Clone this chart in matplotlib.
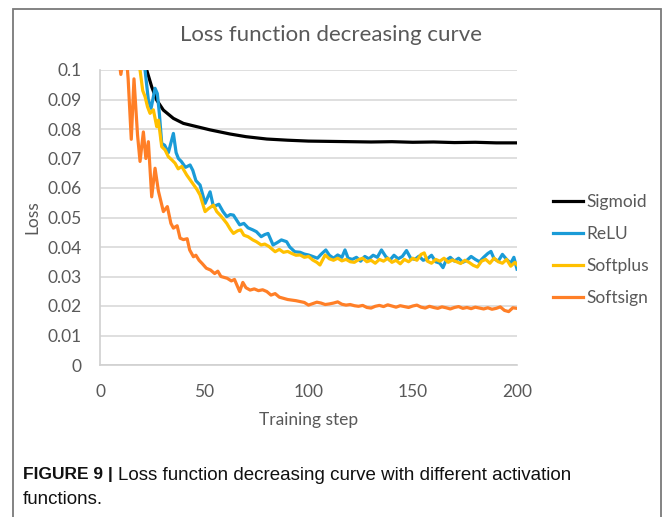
import matplotlib
matplotlib.use("Agg")
import matplotlib.pyplot as plt
from matplotlib.patches import Rectangle
from matplotlib import font_manager

# ---- data ----
sigmoid_x = [18, 22.4, 24.8, 27.2, 30.4, 35.2, 40, 46.4, 52.8, 62.4, 70, 80, 90, 100,
             110, 120, 130, 140, 150, 160, 170, 180, 190, 200]
sigmoid_y = [0.115, 0.1, 0.0943, 0.0898, 0.0864, 0.0836, 0.0819, 0.0808, 0.0797, 0.0783,
             0.0774, 0.0766, 0.0762, 0.0759, 0.0758, 0.0757, 0.0756, 0.0757, 0.0755, 0.0756,
             0.0754, 0.0755, 0.0753, 0.0753]

relu_x = [18, 21.6, 23.2, 24.5, 26.4, 27.5, 28.5, 29.6, 31, 32.8, 35.2, 36.5, 37.6, 39, 41,
          43.2, 44.5, 46, 48, 50.4, 52.8, 54.4, 57, 59, 60.8, 62.5, 64, 67, 69, 71, 73.3, 75,
          77.3, 79, 80.6, 83, 85, 87, 89.5, 91, 93.4, 96, 98, 100, 102, 104.3, 106, 108.3,
          110, 112, 114, 116, 117.5, 119, 121, 123, 125, 127, 129, 131, 133, 135, 137, 139,
          141, 143, 145, 147, 149, 151, 153, 155, 157, 159, 161, 163, 164.5, 166, 168, 170,
          172, 174, 176, 178, 180, 182, 184, 186, 187.5, 189, 191, 193, 195, 197, 198.5, 200]
relu_y = [0.115, 0.1, 0.0898, 0.087, 0.0938, 0.092, 0.085, 0.0751, 0.0745, 0.072, 0.0785,
          0.072, 0.070, 0.069, 0.067, 0.0678, 0.066, 0.0625, 0.061, 0.0548, 0.0587, 0.0537,
          0.0545, 0.052, 0.0503, 0.051, 0.0508, 0.0475, 0.048, 0.0465, 0.0458, 0.0452, 0.0435,
          0.0442, 0.0446, 0.0407, 0.0415, 0.0424, 0.0418, 0.040, 0.0384, 0.0382, 0.0376,
          0.0373, 0.0368, 0.0362, 0.0375, 0.039, 0.0372, 0.0362, 0.0373, 0.0365, 0.039,
          0.0362, 0.0358, 0.0365, 0.0352, 0.0368, 0.036, 0.0372, 0.0365, 0.039, 0.0368,
          0.0355, 0.0372, 0.036, 0.0368, 0.0388, 0.0362, 0.0358, 0.0369, 0.0355, 0.036,
          0.0372, 0.035, 0.0345, 0.033, 0.0355, 0.0365, 0.0352, 0.0362, 0.0348, 0.0355,
          0.0368, 0.0358, 0.035, 0.0365, 0.0378, 0.0385, 0.036, 0.0352, 0.0375, 0.0358,
          0.0345, 0.0365, 0.0325]

softplus_x = [17, 19.2, 20.5, 21.6, 22.8, 24, 25.6, 27.2, 28, 28.8, 29.6, 31.2, 32.8, 34.5,
              36, 37.5, 39.2, 41.6, 43, 45, 46.5, 48, 50.4, 52, 54.4, 56, 58, 60.8, 62.5, 64,
              66, 67.5, 69, 71, 73.3, 75, 77.3, 79, 81, 84, 86, 88, 90, 92, 94, 96, 98, 100,
              102, 104, 105.5, 108, 110, 112, 114, 116, 118, 120, 122, 124, 126, 128, 130,
              132, 134, 136, 138, 140, 142, 144, 146, 148, 150, 152, 154, 155.5, 157, 159,
              161, 163, 165, 167, 169, 171, 173, 175, 177, 179, 181, 183, 185, 187, 189, 191,
              193, 195, 197, 199, 200]
softplus_y = [0.115, 0.1, 0.093, 0.091, 0.0875, 0.0853, 0.0865, 0.0808, 0.083, 0.0785, 0.074,
              0.0729, 0.0706, 0.0695, 0.0684, 0.0665, 0.0673, 0.0644, 0.063, 0.061, 0.0595,
              0.0576, 0.052, 0.053, 0.0542, 0.052, 0.0505, 0.048, 0.046, 0.0446, 0.0455,
              0.0458, 0.044, 0.0435, 0.0424, 0.0418, 0.0407, 0.041, 0.0402, 0.0384, 0.0392,
              0.0382, 0.0385, 0.0378, 0.0372, 0.0373, 0.0365, 0.0368, 0.0356, 0.0348, 0.0339,
              0.0373, 0.036, 0.0355, 0.0362, 0.0353, 0.0358, 0.035, 0.0348, 0.0357, 0.0362,
              0.035, 0.0355, 0.0345, 0.0358, 0.0352, 0.0362, 0.0348, 0.0355, 0.0343, 0.0358,
              0.035, 0.0362, 0.0355, 0.0375, 0.038, 0.0352, 0.0345, 0.0358, 0.0352, 0.0362,
              0.0348, 0.0356, 0.035, 0.0344, 0.0355, 0.0348, 0.0338, 0.0332, 0.0352, 0.0358,
              0.0345, 0.0362, 0.035, 0.0345, 0.0358, 0.0335, 0.0348, 0.034]

softsign_x = [9, 10, 11, 12.5, 13.5, 15, 16.3, 18, 19.2, 20.8, 22, 23.2, 24.8, 26.4, 28,
              30.4, 32.3, 34, 35.2, 37, 38.4, 40, 41.8, 43, 44.8, 46, 47.5, 49, 51, 53, 55,
              56.5, 58, 61, 63, 64.5, 67, 68.5, 70, 72, 74, 76, 78, 80, 82, 84, 86, 88, 90,
              92, 94, 96, 98, 100, 102, 104, 106, 108, 110, 112, 114, 116, 118, 120, 122, 124,
              126, 128, 130, 132, 134, 136, 138, 140, 142, 144, 146, 148, 150, 152, 154, 156,
              158, 160, 162, 164, 166, 168, 170, 172, 174, 176, 178, 180, 182, 184, 186, 188,
              190, 192, 194, 196, 198, 200]
softsign_y = [0.104, 0.0985, 0.103, 0.106, 0.097, 0.0765, 0.097, 0.078, 0.069, 0.079, 0.070,
              0.0757, 0.057, 0.0667, 0.059, 0.052, 0.0537, 0.048, 0.0464, 0.0472, 0.043,
              0.0425, 0.0428, 0.039, 0.0367, 0.0372, 0.0355, 0.0344, 0.0328, 0.0322, 0.031,
              0.0318, 0.030, 0.0294, 0.0285, 0.029, 0.0249, 0.028, 0.0262, 0.0254, 0.0258,
              0.0252, 0.0255, 0.0249, 0.0237, 0.0242, 0.023, 0.0226, 0.0222, 0.022, 0.0218,
              0.0215, 0.0212, 0.0203, 0.0208, 0.0213, 0.021, 0.0205, 0.0207, 0.021, 0.0214,
              0.0206, 0.0203, 0.0205, 0.0201, 0.0199, 0.0202, 0.0195, 0.0193, 0.0199, 0.0202,
              0.0198, 0.0204, 0.02, 0.0196, 0.0201, 0.0198, 0.0195, 0.02, 0.0203, 0.0196,
              0.0193, 0.0199, 0.0195, 0.0192, 0.0197, 0.0194, 0.019, 0.0195, 0.0198, 0.0192,
              0.0195, 0.0191, 0.0196, 0.0193, 0.019, 0.0194, 0.0189, 0.0192, 0.0197, 0.0185,
              0.0181, 0.0194, 0.0192]

series = [
    ("Sigmoid", sigmoid_x, sigmoid_y, "#000000"),
    ("ReLU", relu_x, relu_y, "#1A9BD7"),
    ("Softplus", softplus_x, softplus_y, "#FFC000"),
    ("Softsign", softsign_x, softsign_y, "#FF7F27"),
]
y_ticks = [0, 0.01, 0.02, 0.03, 0.04, 0.05, 0.06, 0.07, 0.08, 0.09, 0.1]
y_tick_labels = ["0", "0.01", "0.02", "0.03", "0.04", "0.05", "0.06", "0.07", "0.08", "0.09", "0.1"]
x_ticks = [0, 50, 100, 150, 200]


def pick_font(names):
    have = {f.name for f in font_manager.fontManager.ttflist}
    for n in names:
        if n in have:
            return n
    return "DejaVu Sans"


chart_font = pick_font(["Lato", "Open Sans", "DejaVu Sans"])
cap_font = pick_font(["Liberation Sans Narrow", "Liberation Sans", "DejaVu Sans"])
grey = "#595959"

W, H = 663, 517
fig = plt.figure(figsize=(W / 100, H / 100), dpi=100)

# outer frame
fig.patches.append(Rectangle((13 / W, -0.05), 648 / W, 1.05 - 9 / H,
                             transform=fig.transFigure, fill=False,
                             edgecolor="#7a7a7a", linewidth=1.3))

ax = fig.add_axes([100 / W, 152 / H, 417 / W, 295 / H])
for name, xs, ys, c in series:
    ax.plot(xs, ys, color=c, lw=2.3, label=name, solid_joinstyle="round")

ax.set_xlim(0, 200)
ax.set_ylim(0, 0.1)
ax.set_yticks(y_ticks)
ax.set_yticklabels(y_tick_labels)
ax.set_xticks(x_ticks)
ax.grid(axis="y", color="#D9D9D9", lw=1.2)
ax.set_axisbelow(True)
for s in ["top", "right"]:
    ax.spines[s].set_visible(False)
for s in ["left", "bottom"]:
    ax.spines[s].set_color("#D0D0D0")
    ax.spines[s].set_linewidth(1.2)
ax.tick_params(length=0, labelsize=12.5, labelcolor=grey)
for lab in ax.get_yticklabels() + ax.get_xticklabels():
    lab.set_family(chart_font)
ax.tick_params(axis="y", pad=13.5)
ax.tick_params(axis="x", pad=14)
ax.set_xlabel("Training step", fontsize=12.5, color=grey, family=chart_font)
ax.set_ylabel("Loss", fontsize=12.5, color=grey, family=chart_font)
ax.xaxis.set_label_coords(0.5, (365 - 420) / 295)
ax.xaxis.label.set_va("center")
ax.yaxis.set_label_coords((32 - 100) / 417, 0.5)
ax.yaxis.label.set_va("center")

fig.text(0.5, 1 - 35 / H, "Loss function decreasing curve", ha="center", va="center",
         fontsize=16, color=grey, family=chart_font)

leg = fig.legend(loc="upper left", bbox_to_anchor=(553 / W, 1 - 194 / H), frameon=False,
                 borderpad=0, borderaxespad=0, handlelength=1.75, handletextpad=0.17,
                 labelspacing=0.92, prop={"family": chart_font, "size": 12.5})
for t in leg.get_texts():
    t.set_color(grey)

r = fig.canvas.get_renderer()
cap_y = 1 - 475 / H
bold = fig.text(23 / W, cap_y, "FIGURE 9 |", ha="left", va="center", fontsize=12.5,
                weight="bold", family=cap_font, color="#111111")
bx = bold.get_window_extent(r).x1
fig.text((bx + 5) / W, cap_y, "Loss function decreasing curve with different activation",
         ha="left", va="center", fontsize=13.5, family=cap_font, color="#111111")
fig.text(23 / W, 1 - 500 / H, "functions.", ha="left", va="center", fontsize=13.5,
         family=cap_font, color="#111111")

fig.savefig("out.png", dpi=100)
